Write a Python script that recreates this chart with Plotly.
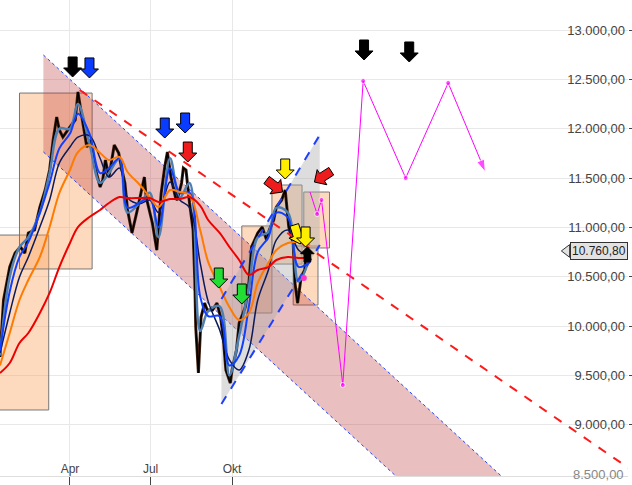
import math
import pandas as pd
import plotly.graph_objects as go

# price line (closing values)
price_dates = ['2015-01-12', '2015-01-16', '2015-01-23', '2015-01-29', '2015-02-04', '2015-02-09',
               '2015-02-13', '2015-02-20', '2015-02-26', '2015-03-04', '2015-03-09', '2015-03-13',
               '2015-03-17', '2015-03-20', '2015-03-24', '2015-03-27', '2015-04-01', '2015-04-07',
               '2015-04-10', '2015-04-15', '2015-04-20', '2015-04-24', '2015-04-30', '2015-05-05',
               '2015-05-08', '2015-05-11', '2015-05-15', '2015-05-21', '2015-05-26', '2015-05-29',
               '2015-06-02', '2015-06-05', '2015-06-10', '2015-06-16', '2015-06-19', '2015-06-24',
               '2015-06-26', '2015-07-03', '2015-07-08', '2015-07-13', '2015-07-17', '2015-07-20',
               '2015-07-24', '2015-07-29', '2015-07-31', '2015-08-05', '2015-08-07', '2015-08-10',
               '2015-08-14', '2015-08-18', '2015-08-20', '2015-08-21', '2015-08-24', '2015-08-27',
               '2015-08-31', '2015-09-03', '2015-09-09', '2015-09-14', '2015-09-18', '2015-09-21',
               '2015-09-24', '2015-09-29', '2015-10-01', '2015-10-06', '2015-10-09', '2015-10-13',
               '2015-10-16', '2015-10-20', '2015-10-23', '2015-10-28', '2015-10-30', '2015-11-04',
               '2015-11-09', '2015-11-12', '2015-11-17', '2015-11-20', '2015-11-26', '2015-11-30',
               '2015-12-02', '2015-12-04', '2015-12-09', '2015-12-11', '2015-12-14', '2015-12-16',
               '2015-12-18', '2015-12-22', '2015-12-23', '2015-12-28']
price = [9686, 10264, 10598, 10740, 10801, 10740,
         10943, 10973, 11206, 11378, 11581, 11885,
         12118, 11986, 11915, 11956, 12017, 12088,
         12372, 12088, 11814, 11885, 11581, 11409,
         11480, 11682, 11510, 11834, 11753, 11612,
         11449, 11176, 10943, 11176, 11307, 11510,
         11307, 11044, 10770, 11348, 11612, 11763,
         11510, 11307, 11276, 11449, 11601, 11581,
         11247, 10973, 10436, 9990, 9524, 10091,
         10233, 10162, 10162, 10233, 10091, 9889,
         9554, 9422, 9554, 9757, 10030, 10132,
         10193, 10436, 10801, 10902, 10943, 11003,
         10872, 10973, 11074, 11206, 11277, 11378,
         11206, 11003, 10841, 10436, 10233, 10365,
         10497, 10568, 10669, 10760.8]

# moving averages (read at coarser spacing)
ma_dates = ['2015-01-12', '2015-01-23', '2015-02-03', '2015-02-13', '2015-02-26', '2015-03-09',
            '2015-03-20', '2015-04-01', '2015-04-10', '2015-04-23', '2015-05-05', '2015-05-15',
            '2015-05-27', '2015-06-05', '2015-06-19', '2015-06-30', '2015-07-10', '2015-07-23',
            '2015-08-03', '2015-08-14', '2015-08-26', '2015-09-04', '2015-09-17', '2015-09-28',
            '2015-10-09', '2015-10-20', '2015-10-30', '2015-11-11', '2015-11-20', '2015-12-03',
            '2015-12-15', '2015-12-28']
ma_steel = [9700, 10500, 10800, 10900, 11150, 11550, 12000, 12000, 12250, 11850, 11450, 11550,
            11700, 11150, 11250, 11350, 10900, 11700, 11300, 11450, 9950, 10150, 10200, 9500,
            9900, 10400, 10900, 10950, 11200, 11150, 10450, 10700]
ma_blue = [9750, 10350, 10700, 10850, 11150, 11450, 11800, 11950, 12150, 11950, 11550, 11600,
           11700, 11200, 11250, 11300, 11000, 11600, 11350, 11350, 10300, 10100, 10100, 9600,
           9700, 10200, 10750, 10900, 11150, 11100, 10600, 10650]
ma_navy = [9726, 10132, 10497, 10700, 11003, 11277, 11652, 11814, 11915, 11930, 11700, 11510,
           11600, 11300, 11240, 11277, 11150, 11460, 11277, 11200, 10639, 10250, 9960, 9656,
           9554, 9757, 10264, 10568, 10872, 10973, 10770, 10700]
ma_orange = [9600, 9929, 10264, 10466, 10700, 11003, 11348, 11581, 11763, 11834, 11753, 11682,
             11713, 11561, 11429, 11307, 11206, 11378, 11358, 11330, 10973, 10650, 10395, 10193,
             10061, 10132, 10436, 10639, 10770, 10841, 10851, 10820]
ma_red = [9524, 9625, 9828, 9929, 10132, 10335, 10598, 10841, 11003, 11105, 11176, 11247,
          11307, 11297, 11297, 11297, 11257, 11287, 11287, 11307, 11220, 11074, 10943, 10801,
          10669, 10517, 10568, 10598, 10669, 10700, 10690, 10690]

# forecast path (magenta)
fc_dates = ['2015-12-28', '2016-01-05', '2016-01-10', '2016-02-03', '2016-02-26', '2016-04-14',
            '2016-06-01', '2016-07-13']
fc_vals = [11358, 11135, 11277, 9402, 12483, 11500, 12463, 11561]

# falling channel (pink), trend line (red), rising channel (grey)
chan_dates = ['2015-03-02', '2017-01-01']
chan_upper = [12747, 7208]
chan_lower = [11764, 6225]
trend_dates = ['2015-04-12', '2017-01-11']
trend_vals = [12392, 8435]
rise_dates = ['2015-09-19', '2016-01-08']
rise_upper = [10274, 11936]
rise_lower = [9210, 10821]

# boxes: start, end, top, bottom
box_x0 = ['2014-12-20', '2015-02-03', '2015-10-12', '2015-11-15', '2015-12-09', '2015-12-21']
box_x1 = ['2015-03-08', '2015-04-26', '2015-11-15', '2015-12-19', '2016-01-06', '2016-01-19']
box_top = [10922, 12361, 11014, 11429, 10811, 11358]
box_bot = [9149, 10578, 10132, 10628, 10213, 10791]

# signal arrows: tip date, tip value, direction (dx, dy on screen), colour, size
arr_dates = ['2015-04-04', '2015-04-23', '2015-07-17', '2015-08-09', '2015-08-12', '2015-09-16',
             '2015-10-12', '2015-11-27', '2015-11-30', '2016-01-02', '2015-12-17', '2015-12-23',
             '2015-12-25', '2016-02-27', '2016-04-18']
arr_vals = [12524, 12514, 11905, 11956, 11662, 10385,
            10223, 11358, 11490, 11459, 10831, 10801,
            10801, 12696, 12676]
arr_dirs = [(0, 1), (0, 1), (0, 1), (0, 1), (0, 1), (0, 1),
            (0, 1), (0.8, 0.6), (0, 1), (-0.84, 0.54), (0.3, 0.95), (0, 1),
            (0, -1), (0, 1), (0, 1)]
arr_cols = ['#000000', '#0a3cff', '#0a3cff', '#0a3cff', '#ee1c1c', '#22dd33',
            '#22dd33', '#ee1c1c', '#ffee00', '#ee1c1c', '#ffee00', '#ffee00',
            '#000000', '#000000', '#000000']
arr_size = [1, 1, 1, 1, 1, 1, 1, 1, 1, 1, 1, 1, 0.75, 1, 1]

y_ticks = list(range(8500, 13001, 500))
last_label = '10.760,80'

W, H = 632, 485
M = dict(l=0, r=4, t=0, b=9)
x_range = ['2015-01-12', '2016-12-21']
y_range = [8480, 13304]
px_per_day = (W - M['l'] - M['r']) / (pd.Timestamp(x_range[1]) - pd.Timestamp(x_range[0])).days
val_per_px = (y_range[1] - y_range[0]) / (H - M['t'] - M['b'])


def de_fmt(v):
    return f"{v:,.2f}".replace(',', 'X').replace('.', ',').replace('X', '.')


def arrow_poly(date, val, d, s):
    # block arrow, tip at (date, val), built in screen pixels
    dx, dy = d
    n = math.hypot(dx, dy)
    dx, dy = dx / n, dy / n
    nx, ny = -dy, dx
    pts = [(0, 0), (-9, 9), (-9, 4.5), (-20, 4.5), (-20, -4.5), (-9, -4.5), (-9, -9), (0, 0)]
    t = pd.Timestamp(date)
    xs, ys = [], []
    for a, p in pts:
        px = (a * dx + p * nx) * s
        py = (a * dy + p * ny) * s
        xs.append(t + pd.Timedelta(days=px / px_per_day))
        ys.append(val - py * val_per_px)
    return xs, ys


fig = go.Figure()

# falling channel
fig.add_trace(go.Scatter(x=chan_dates + chan_dates[::-1], y=chan_upper + chan_lower[::-1],
                         fill='toself', fillcolor='rgba(190,60,60,0.33)', line=dict(width=0),
                         mode='lines'))
for yy in (chan_upper, chan_lower):
    fig.add_trace(go.Scatter(x=chan_dates, y=yy, mode='lines',
                             line=dict(color='#2244ff', width=1, dash='dot')))

# rising channel
fig.add_trace(go.Scatter(x=rise_dates + rise_dates[::-1], y=rise_upper + rise_lower[::-1],
                         fill='toself', fillcolor='rgba(170,170,170,0.4)', line=dict(width=0),
                         mode='lines'))

# price + averages
fig.add_trace(go.Scatter(x=price_dates, y=price, mode='lines', line=dict(color='#4a2410', width=3)))
fig.add_trace(go.Scatter(x=price_dates, y=price, mode='lines', line=dict(color='#000000', width=1.5)))
fig.add_trace(go.Scatter(x=ma_dates, y=ma_steel, mode='lines', line=dict(color='#4f7fb0', width=2.5, shape='spline')))
fig.add_trace(go.Scatter(x=ma_dates, y=ma_navy, mode='lines', line=dict(color='#0b1a5c', width=1.5, shape='spline')))
fig.add_trace(go.Scatter(x=ma_dates, y=ma_blue, mode='lines', line=dict(color='#1040ff', width=2, shape='spline')))
fig.add_trace(go.Scatter(x=ma_dates, y=ma_orange, mode='lines', line=dict(color='#ff7a00', width=2, shape='spline')))
fig.add_trace(go.Scatter(x=ma_dates, y=ma_red, mode='lines', line=dict(color='#ee0000', width=2, shape='spline')))

# trend lines
fig.add_trace(go.Scatter(x=trend_dates, y=trend_vals, mode='lines',
                         line=dict(color='#ff1a1a', width=2, dash='dash')))
for yy in (rise_upper, rise_lower):
    fig.add_trace(go.Scatter(x=rise_dates, y=yy, mode='lines',
                             line=dict(color='#1f3fff', width=2, dash='dash')))

# forecast
symbols = ['circle'] * (len(fc_vals) - 1) + ['arrow']
sizes = [5] * (len(fc_vals) - 1) + [13]
fig.add_trace(go.Scatter(x=fc_dates, y=fc_vals, mode='lines+markers',
                         line=dict(color='#ff00ff', width=1),
                         marker=dict(symbol=symbols, size=sizes, color='#ff00ff', angleref='previous')))
fig.add_trace(go.Scatter(x=['2015-12-21'], y=[10487], mode='markers',
                         marker=dict(color='#ff33cc', size=6)))

# arrows
for d, v, dr, c, s in zip(arr_dates, arr_vals, arr_dirs, arr_cols, arr_size):
    xs, ys = arrow_poly(d, v, dr, s)
    fig.add_trace(go.Scatter(x=xs, y=ys, mode='lines', fill='toself', fillcolor=c,
                             line=dict(color='#000000', width=1)))

# notch of the last-price label
fig.add_trace(go.Scatter(x=['2016-10-13'], y=[price[-1]], mode='markers',
                         marker=dict(symbol='triangle-left', size=11, color='#e2e2e2',
                                     line=dict(color='#333333', width=1))))

# boxes
for x0, x1, t, b in zip(box_x0, box_x1, box_top, box_bot):
    fig.add_shape(type='rect', x0=x0, x1=x1, y0=b, y1=t, xref='x', yref='y', layer='between',
                  fillcolor='rgba(250,162,92,0.4)', line=dict(color='#777777', width=1))

fig.add_annotation(x=1, xref='paper', xanchor='right', y=price[-1], yref='y',
                   text=last_label, showarrow=False, bgcolor='#e2e2e2',
                   bordercolor='#333333', borderwidth=1, borderpad=1,
                   font=dict(size=12, color='#222222'))

# bottom tick label (plotly hides it next to the x axis labels)
fig.add_annotation(x=1, xref='paper', xanchor='right', xshift=-2, y=y_ticks[0], yref='y',
                   yanchor='middle', text=de_fmt(y_ticks[0]), showarrow=False,
                   font=dict(size=13, color='#888888'))

fig.update_layout(
    width=W, height=H, margin=M, showlegend=False,
    plot_bgcolor='white', paper_bgcolor='white',
    separators=',.',
    font=dict(family='Liberation Sans, Arial, sans-serif', size=13, color='#888888'),
    xaxis=dict(type='date', range=x_range,
               tickvals=['2015-04-01', '2015-07-01', '2015-10-01'], ticktext=['Apr', 'Jul', 'Okt'],
               ticks='outside', ticklen=8, tickcolor='#444444', ticklabelposition='inside',
               showgrid=True, gridcolor='#e8e8e8', showline=True, linecolor='#dddddd',
               zeroline=False, tickfont=dict(size=12)),
    yaxis=dict(side='right', range=y_range, tickvals=y_ticks,
               tickformat=',.2f', ticks='outside', ticklen=4, tickcolor='#444444',
               ticklabelposition='inside', ticklabeloverflow='allow',
               showgrid=True, gridcolor='#e8e8e8', zeroline=False, showline=False),
    hovermode=False,
)

fig.write_html("out.html", config={'displayModeBar': False},
               post_script="document.body.style.margin='0px';")
